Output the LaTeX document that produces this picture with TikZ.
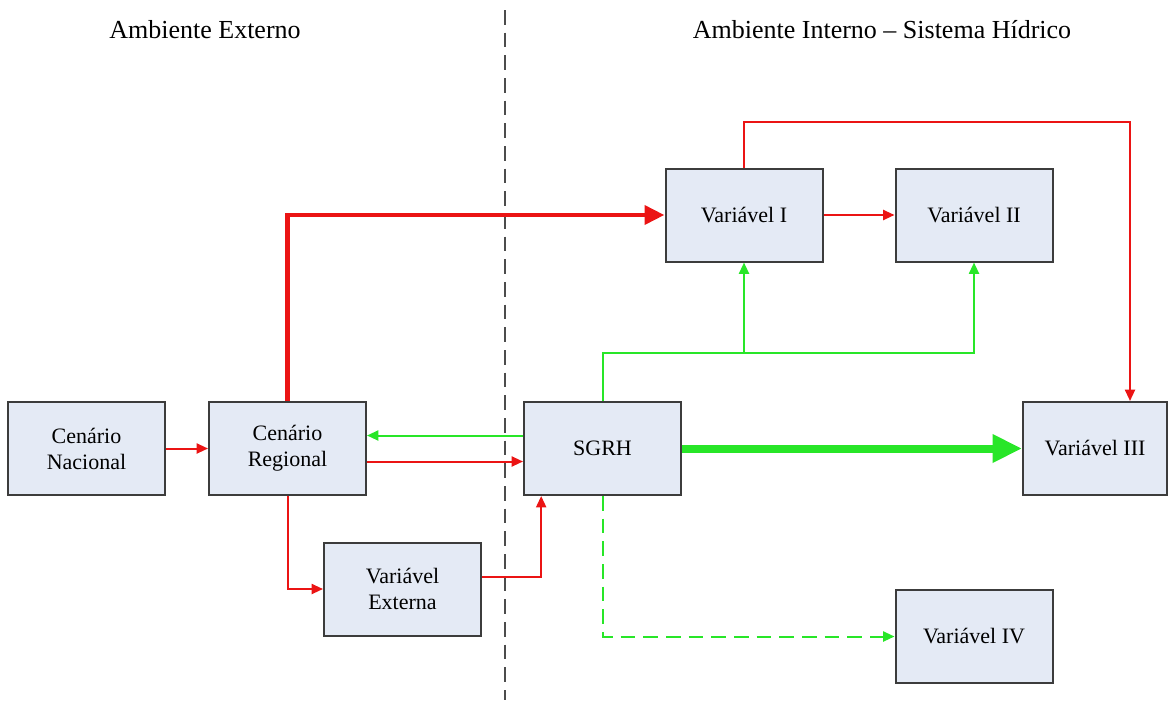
\documentclass[tikz,border=0pt]{standalone}
\usepackage{fontspec}
\setmainfont{Liberation Serif}
\usetikzlibrary{arrows.meta}
\definecolor{boxfill}{RGB}{228,234,245}
\definecolor{boxline}{RGB}{60,60,60}
\definecolor{rd}{RGB}{235,20,20}
\definecolor{gr}{RGB}{40,230,40}
\begin{document}
\begin{tikzpicture}[x=0.75pt, y=-0.75pt,
    blk/.style={draw=boxline, fill=boxfill, line width=1.5pt, minimum width=117.75pt,
      minimum height=69.75pt, inner sep=0pt, align=center, font=\fontsize{16.5}{19.5}\selectfont},
    ttl/.style={font=\fontsize{19.5}{23}\selectfont},
    rl/.style={draw=rd, line width=1.5pt, -{Triangle[length=8.5pt,width=7.5pt]}},
    gl/.style={draw=gr, line width=1.5pt, -{Triangle[length=8.5pt,width=7.5pt]}},
    dsh/.style={dash pattern=on 11pt off 6pt}]
  \useasboundingbox (0,0) rectangle (1169,700);
  \draw[gray!60!black, line width=1.5pt, dsh] (505,10) -- (505,700);
  \node[ttl] (AE) at (205,30) {Ambiente Externo};
  \node[ttl] (AI) at (882,30) {Ambiente Interno -- Sistema Hídrico};

  \node[blk] (N) at (86.5,448.5) {Cenário\\Nacional};
  \node[blk] (R) at (287.5,448.5) {Cenário\\Regional};
  \node[blk] (E) at (402.5,589) {Variável\\Externa};
  \node[blk] (S) at (602.5,448.5) {SGRH};
  \node[blk] (V1) at (744,215) {Variável I};
  \node[blk] (V2) at (974,215) {Variável II};
  \node[blk, minimum width=108pt] (V3) at (1095,448.5) {Variável III};
  \node[blk] (V4) at (974,636.5) {Variável IV};
  \coordinate (G) at (744,353);

  \draw[rl] (N) -- (R);
  \draw[rl, line width=3.5pt, -{Triangle[length=15pt,width=14pt]}] (R.north) |- (V1);
  \draw[gl] ([yshift=9.75pt]S.west) -- ([yshift=9.75pt]R.east);
  \draw[rl] ([yshift=-9.75pt]R.east) -- ([yshift=-9.75pt]S.west);
  \draw[rl] (R.south) |- (E);
  \draw[rl] ([yshift=9pt]E.east) -| ([xshift=-46pt]S.south);
  \draw[gl] (S.north) |- (G) -| (V2.south);
  \draw[gl] (G) -- (V1.south);
  \draw[rl] (V1) -- (V2);
  \draw[rl] (V1.north) -- ++(0,-46) -| ([xshift=26.25pt]V3.north);
  \draw[gl, line width=6pt, -{Triangle[length=22pt,width=20pt]}] (S) -- (V3);
  \draw[gl, dsh] (S.south) |- (V4);
\end{tikzpicture}
\end{document}
